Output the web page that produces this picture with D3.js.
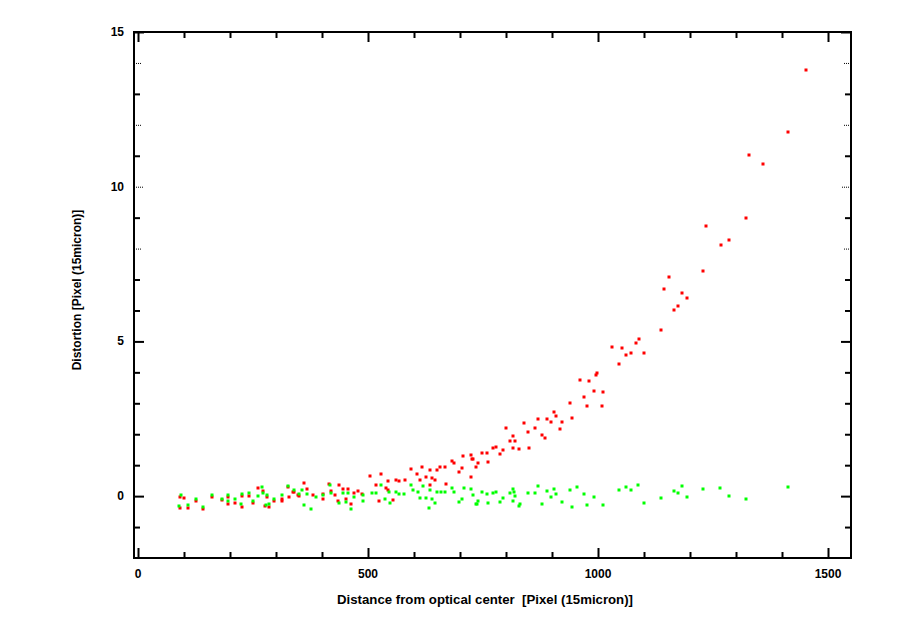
<!DOCTYPE html>
<html><head><meta charset="utf-8">
<script src="https://cdn.jsdelivr.net/npm/d3@7"></script>
<style>body{margin:0;background:#fff}svg{display:block}text{font-family:"Liberation Sans",Arial,sans-serif;font-weight:bold;font-size:12px;fill:#000;white-space:pre}</style>
</head><body>
<script>
const xTickValues = [0, 500, 1000, 1500];
const yTickValues = [0, 5, 10, 15];
const xTitle = "Distance from optical center  [Pixel (15micron)]";
const yTitle = "Distortion [Pixel (15micron)]";
const radialPoints = [[1452,13.77],[1413,11.77],[1328,11.02],[1359,10.73],[1322,8.99],[1235,8.73],[1285,8.28],[1267,8.11],[1228,7.27],[1154,7.08],[1143,6.69],[1183,6.56],[1193,6.40],[1174,6.14],[1165,6.01],[1137,5.37],
[1089,5.08],[1083,4.95],[1052,4.78],[1030,4.82],[1061,4.56],[1072,4.62],[1100,4.62],[1046,4.27],[998,3.98],[996,3.91],[961,3.75],[980,3.72],[991,3.39],[1011,3.36],[970,3.20],[976,2.91],[1009,2.91],
[939,3.01],[904,2.72],[909,2.59],[870,2.49],[889,2.49],[898,2.39],[922,2.39],[943,2.52],[839,2.36],[800,2.20],[863,2.20],[917,2.17],[848,2.07],[878,1.97],[885,1.88],[815,1.94],[809,1.78],[820,1.78],[815,1.55],[828,1.52],[850,1.55],[778,1.58],[772,1.55],[793,1.49],[748,1.39],[759,1.39],[787,1.36],[724,1.33],[728,1.20],[739,1.07],[761,1.10],[735,0.94],[724,0.61],
[707,1.29],[726,1.20],[687,1.07],[683,1.13],[704,0.91],[698,0.78],[657,0.94],[667,0.94],[650,0.84],[635,0.84],[617,0.94],[593,0.87],[607,0.71],[613,0.52],[626,0.61],[639,0.58],[646,0.52],[670,0.39],[635,0.36],[580,0.52],[567,0.48],[543,0.48],[561,0.52],[528,0.71],[504,0.65],[517,0.36],[539,0.26],[543,0.19],[554,-0.13],[524,-0.16],[487,0.06],[478,0.16],[470,0.10],[457,0.23],[446,0.23],[437,0.36],[428,0.03],[463,-0.26],[452,-0.10],[435,-0.16],[415,0.39],[420,0.16],[402,0.06],[380,0.03],[361,0.42],[367,0.23],[348,0.03],[337,0.13],[326,0.29],[328,-0.03],[313,-0.16],[402,-0.10],
[91,-0.03],[100,-0.06],[91,-0.39],[109,-0.39],[126,-0.16],[141,-0.42],[161,-0.03],[183,-0.13],[196,-0.26],[196,-0.03],[211,-0.23],[226,-0.36],[226,0],[241,0],[250,-0.23],[261,0.26],[272,0.16],[280,-0.03],[276,-0.32],[285,-0.36],[296,-0.16],[313,-0.10],[339,0.13],[350,0]];
const tangentialPoints = [[93,0.03],[89,-0.32],[109,-0.29],[126,-0.10],[141,-0.36],[161,0.03],[183,-0.10],[196,0.03],[196,-0.16],[211,-0.10],[224,-0.26],[226,0.06],[241,0.10],[250,-0.16],[261,0],[270,0.29],[272,0.10],[278,-0.29],[280,0.03],[285,-0.26],[296,-0.10],[313,0.03],[326,0.32],[339,0.19],[350,0.06],
[361,-0.29],[376,-0.42],[357,0.19],[367,0.06],[387,-0.03],[402,0.03],[417,0.36],[420,0.10],[437,-0.23],[452,-0.19],[446,0.10],[457,0.10],[470,-0.03],[489,0.03],[489,-0.16],[463,-0.42],[509,0.10],[517,0.10],[528,0.36],[546,0.13],[537,-0.10],[548,-0.23],[561,0.13],[567,0.06],[578,0.06],[593,0.36],[598,0.19],[609,0.13],[613,-0.06],[620,0.32],[626,-0.06],[635,0.19],[639,-0.10],[633,-0.39],[646,-0.23],[650,0.13],[659,0.13],[667,0.13],[683,0.26],[687,0.13],[698,-0.19],[704,-0.10],[709,0.26],[724,0.23],[728,0.03],[737,-0.26],[739,-0.16],
[748,0.13],[735,-0.26],[759,0.06],[761,-0.23],[772,0.10],[778,0.13],[793,-0.06],[787,-0.19],[809,0.10],[815,0.23],[817,0.13],[820,0],[815,-0.16],[830,-0.26],[828,-0.32],[848,0.10],[863,0.10],[870,0.32],[878,-0.26],[889,0.16],[904,0.23],[898,-0.03],[909,0.06],[922,-0.19],[939,0.19],[943,-0.36],[954,0.29],[970,0.06],[976,-0.29],[991,-0.03],[1011,-0.29],[1046,0.19],[1061,0.29],[1072,0.19],[1087,0.36],[1100,-0.23],[1137,-0.06],[1165,0.16],[1174,0.10],[1183,0.32],[1193,-0.03],[1228,0.23],[1265,0.26],[1285,0],[1322,-0.10],[1413,0.29]];

const W = 900, H = 623;
const mLeft = 134, mRight = 851, mTop = 32, mBottom = 558;
const x = d3.scaleLinear().domain([-8.7, 1550]).range([mLeft, mRight]);
const y = d3.scaleLinear().domain([-2, 15]).range([mBottom, mTop]);

const svg = d3.select("body").append("svg").attr("width", W).attr("height", H);

const pts = svg.append("g");
pts.selectAll(".r").data(radialPoints).enter().append("rect")
  .attr("x", d => Math.round(x(d[0])) - 1.5).attr("y", d => Math.round(y(d[1])) - 1.5)
  .attr("width", 3).attr("height", 3).attr("fill", "#ff0000");
pts.selectAll(".g").data(tangentialPoints).enter().append("rect")
  .attr("x", d => Math.round(x(d[0])) - 1.5).attr("y", d => Math.round(y(d[1])) - 1.5)
  .attr("width", 3).attr("height", 3).attr("fill", "#00ff00");

const xMinor = d3.range(0, 1501, 100);
const yMinor = d3.range(-1, 16, 1);
const major = 10, minor = 6;

function xAxisG(ty, sign) {
  const g = svg.append("g").attr("transform", `translate(0,${ty})`);
  g.call(d3.axisBottom(x).tickValues(xMinor).tickSize(0).tickFormat(""));
  g.select(".domain").remove();
  g.selectAll(".tick line").attr("y1", 0)
    .attr("y2", d => sign * (xTickValues.includes(d) ? major : minor))
    .attr("stroke", "#000").attr("stroke-width", 2);
}
xAxisG(mBottom, -1);
xAxisG(mTop, 1);

function yAxisG(tx, sign) {
  const g = svg.append("g").attr("transform", `translate(${tx},0)`);
  g.call(d3.axisLeft(y).tickValues(yMinor).tickSize(0).tickFormat(""));
  g.select(".domain").remove();
  g.selectAll(".tick line").each(function(d) {
    const sel = d3.select(this);
    const dotted = d >= 8 && d % 2 === 0;
    sel.attr("x1", 0).attr("x2", sign * (yTickValues.includes(d) ? major : minor))
      .attr("stroke", "#000").attr("stroke-width", dotted ? 1 : 2);
    if (dotted) sel.attr("stroke-dasharray", "1,1").attr("x2", sign * (d === 10 ? 10 : 7));
  });
}
yAxisG(mLeft, 1);
yAxisG(mRight, -1);

svg.append("rect").attr("x", mLeft).attr("y", mTop).attr("width", mRight - mLeft).attr("height", mBottom - mTop)
  .attr("fill", "none").attr("stroke", "#000").attr("stroke-width", 2);

svg.append("g").selectAll("text").data(xTickValues).enter().append("text")
  .attr("x", d => x(d)).attr("y", 578).attr("text-anchor", "middle").text(d => d);
svg.append("g").selectAll("text").data(yTickValues).enter().append("text")
  .attr("x", 124).attr("y", d => y(d) + 4).attr("text-anchor", "end").text(d => d);

svg.append("text").attr("x", 337).attr("y", 604)
  .attr("textLength", 296).attr("lengthAdjust", "spacingAndGlyphs")
  .style("font-size", "13px").text(xTitle);
svg.append("text").attr("transform", "translate(81,290) rotate(-90)").attr("text-anchor", "middle").text(yTitle);
</script>
</body></html>
